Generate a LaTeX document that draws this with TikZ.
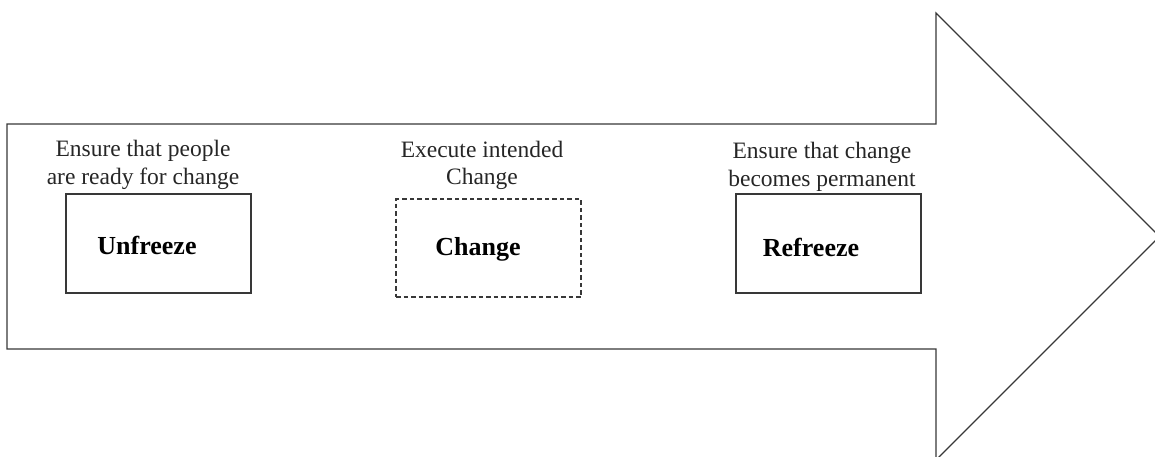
\documentclass[tikz,border=0pt]{standalone}
\usepackage{fontspec}
\setmainfont{Liberation Serif}
\begin{document}
\begin{tikzpicture}[x=1pt,y=-1pt,
  outline/.style={draw=black!78, line width=1.2pt, line join=miter},
  stagebox/.style={outline, minimum width=185pt, minimum height=99pt, inner sep=0pt},
  dashbox/.style={stagebox, dash pattern=on 4.5pt off 3pt},
  note/.style={font=\fontsize{23.5}{28}\selectfont, align=center, anchor=base, inner sep=0pt, text=black!85},
  stage/.style={font=\fontsize{26}{30}\selectfont\bfseries, anchor=base, inner sep=0pt}]
  \useasboundingbox (0,0) rectangle (1155,457);
  % large block arrow carrying the three stages
  \draw[outline] (7,124) -- (936,124) -- (936,13) -- (1159.5,236.5)
    -- (936,460) -- (936,349) -- (7,349) -- cycle;
  % stage boxes
  \node[stagebox] (unfreezebox) at (158.5,243.5) {};
  \node[dashbox, minimum height=98pt] (changebox) at (488.5,248) {};
  \node[stagebox] (refreezebox) at (828.5,243.5) {};
  % stage names
  \node[stage] (unfreeze) at (147,254) {Unfreeze};
  \node[stage] (change) at (478,255) {Change};
  \node[stage] (refreeze) at (811,256) {Refreeze};
  % descriptions above the boxes (anchored at the baseline of the last line)
  \node[note] (unfreezenote) at (143,184) {Ensure that people\\are ready for change};
  \node[note] (changenote) at (482,185) {Execute intended\\Change};
  \node[note] (refreezenote) at (822,186) {Ensure that change\\becomes permanent};
\end{tikzpicture}
\end{document}
